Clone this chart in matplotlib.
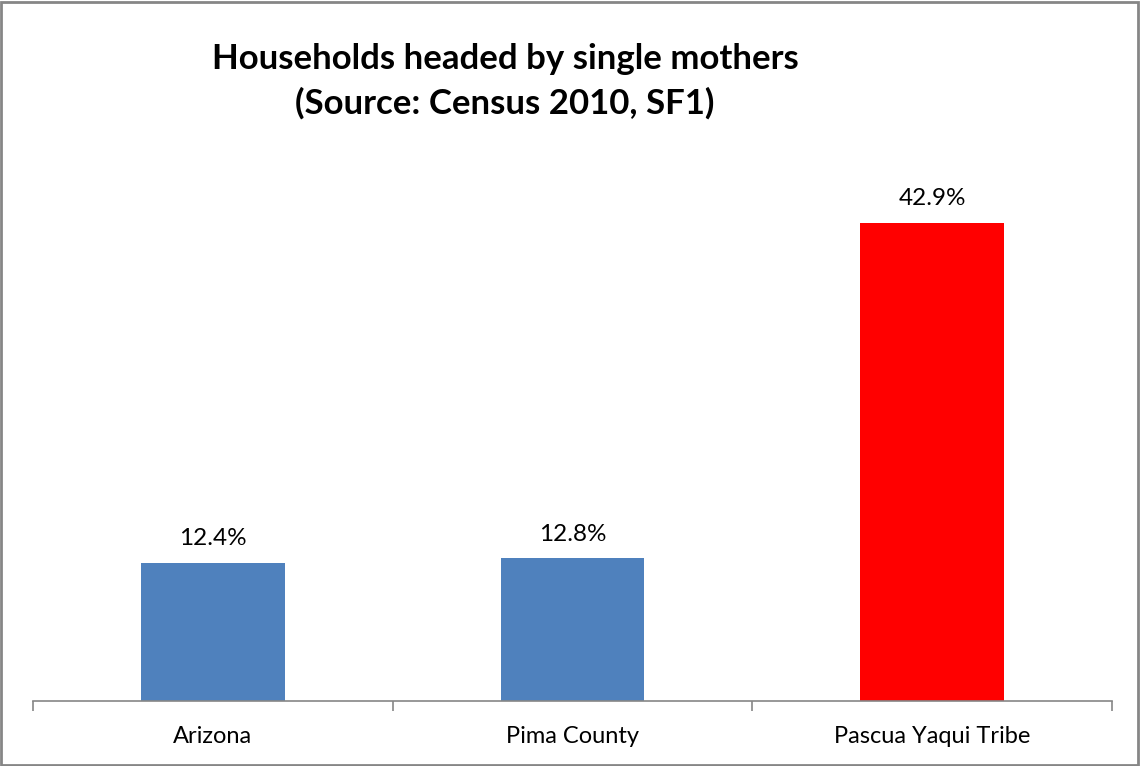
import matplotlib
matplotlib.use("Agg")
import matplotlib.pyplot as plt
from matplotlib.patches import Rectangle

# Datos (Census 2010, SF1)
categorias = ['Arizona', 'Pima County', 'Pascua Yaqui Tribe']
porcentajes = [12.4, 12.8, 42.9]
colores = ['#4F81BD', '#4F81BD', '#FF0000']

plt.rcParams['font.family'] = ['Lato', 'DejaVu Sans']

fig = plt.figure(figsize=(11.4, 7.66), dpi=100)
ax = fig.add_axes([33 / 1140, 65 / 766, (1112 - 33) / 1140, 557 / 766])

x = list(range(len(categorias)))
ax.bar(x, porcentajes, width=0.4, color=colores)

# etiquetas de valor encima de cada barra
for xi, v in zip(x, porcentajes):
    ax.annotate(f'{v:.1f}%', (xi, v), xytext=(0, 10), textcoords='offset points',
                ha='center', va='bottom', fontsize=17.5, color='black')

ax.set_xlim(-0.5, len(categorias) - 0.5)
ax.set_ylim(0, 50)

# eje x estilo Excel: marcas entre categorias
ax.set_xticks(x)
ax.set_xticklabels(categorias, fontsize=17)
ax.tick_params(axis='x', which='major', length=0, pad=18)
ax.set_xticks([i - 0.5 for i in range(len(categorias) + 1)], minor=True)
ax.tick_params(axis='x', which='minor', length=7, width=1.2, color='#868686', direction='out')

ax.set_yticks([])
for lado in ['top', 'right', 'left']:
    ax.spines[lado].set_visible(False)
ax.spines['bottom'].set_color('#868686')
ax.spines['bottom'].set_linewidth(1.2)

fig.text(505 / 1140, 1 - 59 / 766, 'Households headed by single mothers',
         ha='center', va='center', fontsize=25, fontweight='bold')
fig.text(505 / 1140, 1 - 103 / 766, '(Source: Census 2010, SF1)',
         ha='center', va='center', fontsize=25, fontweight='bold')

# borde del grafico
fig.patches.append(Rectangle((0.001, 0.001), 0.997, 0.997, transform=fig.transFigure,
                             fill=False, edgecolor='#868686', linewidth=2))

fig.savefig('out.png', dpi=100)
